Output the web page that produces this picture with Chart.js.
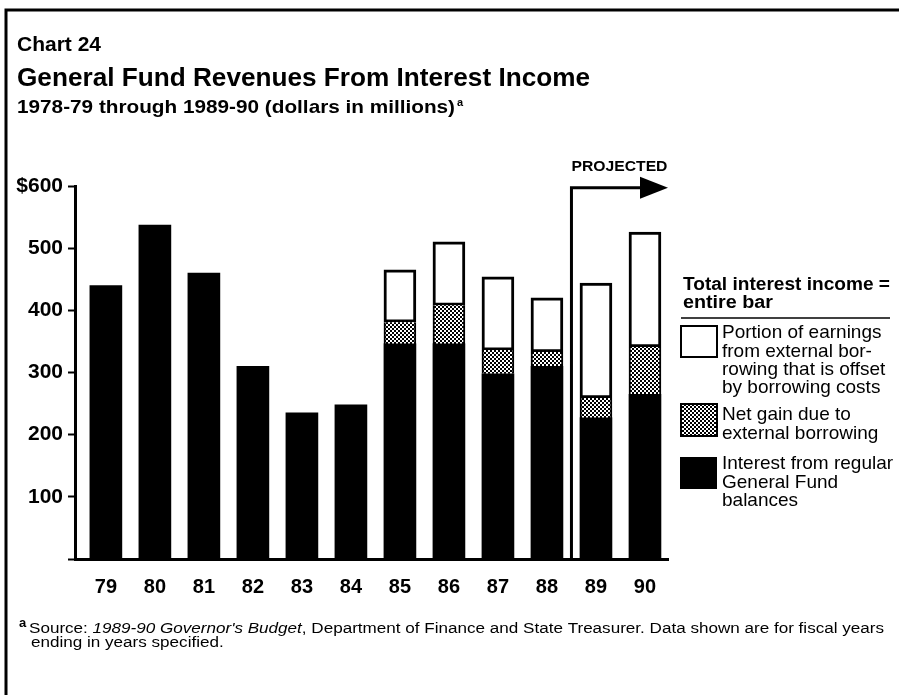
<!DOCTYPE html>
<html>
<head>
<meta charset="utf-8">
<script src="https://cdn.jsdelivr.net/npm/chart.js@4.4.0/dist/chart.umd.min.js"></script>
<style>
  body { margin: 0; background: #fff; }
  #wrap { position: relative; width: 899px; height: 695px; }
</style>
</head>
<body>
<div id="wrap"><canvas id="chart"></canvas></div>
<script>
// fiscal years ending in ...
const years = ['79', '80', '81', '82', '83', '84', '85', '86', '87', '88', '89', '90'];
// interest from regular General Fund balances
const regularInterest = [440, 537, 460, 310, 235, 248, 346, 346, 298, 310, 227, 265];
// net gain due to external borrowing
const netGain = [null, null, null, null, null, null, 35, 62, 38, 23, 32, 76];
// portion of earnings from external borrowing offset by borrowing costs
const offsetEarnings = [null, null, null, null, null, null, 84, 102, 118, 87, 185, 185];
const yTicks = [0, 100, 200, 300, 400, 500, 600];
const firstProjected = 10; // '89

const FONT = '"Liberation Sans", Arial, Helvetica, sans-serif';
const canvas = document.getElementById('chart');
const ctx0 = canvas.getContext('2d');

// bars sit on a numeric x axis (index per year) so the first bar can stand off the y axis
const points = arr => arr.map((v, i) => ({ x: i, y: v }));

function dotPattern() {
  const c = document.createElement('canvas');
  c.width = 4; c.height = 4;
  const g = c.getContext('2d');
  g.fillStyle = '#fff';
  g.fillRect(0, 0, 4, 4);
  g.fillStyle = '#000';
  g.fillRect(0, 0, 2, 2);
  g.fillRect(2, 2, 2, 2);
  return ctx0.createPattern(c, 'repeat');
}
const dots = dotPattern();

function runsWidth(ctx, runs) {
  let total = 0;
  runs.forEach(r => { ctx.font = r.font; total += ctx.measureText(r.text).width; });
  return total;
}

// draw a line made of differently styled runs, optionally squeezed/stretched
function drawRuns(ctx, runs, x, y, width, k) {
  if (!k) k = width ? width / runsWidth(ctx, runs) : 1;
  ctx.save();
  ctx.translate(x, y);
  ctx.scale(k, 1);
  let cx = 0;
  runs.forEach(r => {
    ctx.font = r.font;
    ctx.fillText(r.text, cx, 0);
    cx += ctx.measureText(r.text).width;
  });
  ctx.restore();
  return k;
}

const pageText = {
  id: 'pageText',
  beforeDraw(chart) {
    const ctx = chart.ctx;
    ctx.save();
    ctx.fillStyle = '#fff';
    ctx.fillRect(0, 0, chart.width, chart.height);
    ctx.restore();
  },
  afterDraw(chart) {
    const ctx = chart.ctx;
    ctx.save();
    ctx.fillStyle = '#000';
    ctx.strokeStyle = '#000';

    // frame
    ctx.lineWidth = 3;
    ctx.beginPath();
    ctx.moveTo(6, 695);
    ctx.lineTo(6, 10);
    ctx.lineTo(899, 10);
    ctx.stroke();

    ctx.textBaseline = 'middle';
    drawRuns(ctx, [{ text: 'Chart 24', font: 'bold 20px ' + FONT }], 17, 45, 84);
    drawRuns(ctx, [{ text: 'General Fund Revenues From Interest Income', font: 'bold 26px ' + FONT }], 17, 79, 573);
    drawRuns(ctx, [{ text: '1978-79 through 1989-90 (dollars in millions)', font: 'bold 19px ' + FONT }], 17, 108, 438);
    ctx.font = 'bold 11px ' + FONT;
    ctx.fillText('a', 457, 103);

    // legend
    const lx = 681;
    drawRuns(ctx, [{ text: 'Total interest income =', font: 'bold 18px ' + FONT }], 683, 285, 207);
    drawRuns(ctx, [{ text: 'entire bar', font: 'bold 18px ' + FONT }], 683, 303, 90);
    ctx.lineWidth = 1.5;
    ctx.beginPath();
    ctx.moveTo(lx, 318); ctx.lineTo(890, 318);
    ctx.stroke();

    ctx.lineWidth = 2;
    ctx.fillStyle = '#fff';
    ctx.fillRect(lx, 326, 36, 31);
    ctx.strokeRect(lx, 326, 36, 31);
    ctx.fillStyle = dots;
    ctx.fillRect(lx, 404, 36, 32);
    ctx.strokeRect(lx, 404, 36, 32);
    ctx.fillStyle = '#000';
    ctx.fillRect(lx - 1, 457, 37, 32);

    const lf = '19px ' + FONT;
    const items = [
      [['Portion of earnings', 333], ['from external bor-', 352], ['rowing that is offset', 370], ['by borrowing costs', 388]],
      [['Net gain due to', 415], ['external borrowing', 434]],
      [['Interest from regular', 464], ['General Fund', 483], ['balances', 501]]
    ];
    ctx.fillStyle = '#000';
    items.forEach(lines => lines.forEach(([t, y]) => drawRuns(ctx, [{ text: t, font: lf }], 722, y)));

    // footnote
    ctx.font = 'bold 13px ' + FONT;
    ctx.fillText('a', 19, 623);
    const fn = '14px ' + FONT;
    const fi = 'italic 14px ' + FONT;
    const k = drawRuns(ctx, [
      { text: 'Source: ', font: fn },
      { text: "1989-90 Governor's Budget", font: fi },
      { text: ', Department of Finance and State Treasurer. Data shown are for fiscal years', font: fn }
    ], 29, 629, 855);
    drawRuns(ctx, [{ text: 'ending in years specified.', font: fn }], 31, 643, 0, k);
    ctx.restore();
  }
};

// "PROJECTED" marker between the actual and projected years
const projected = {
  id: 'projected',
  afterDatasetsDraw(chart) {
    const { ctx, scales: { x, y }, chartArea } = chart;
    const lineX = (x.getPixelForValue(firstProjected - 1) + x.getPixelForValue(firstProjected)) / 2;
    const top = y.getPixelForValue(597);
    const tipX = chartArea.right;
    ctx.save();
    ctx.strokeStyle = '#000';
    ctx.fillStyle = '#000';
    ctx.lineWidth = 3;
    ctx.beginPath();
    ctx.moveTo(lineX, chartArea.bottom);
    ctx.lineTo(lineX, top);
    ctx.lineTo(tipX - 26, top);
    ctx.stroke();
    ctx.beginPath();
    ctx.moveTo(tipX - 28, top - 11);
    ctx.lineTo(tipX, top);
    ctx.lineTo(tipX - 28, top + 11);
    ctx.closePath();
    ctx.fill();
    ctx.textBaseline = 'middle';
    drawRuns(ctx, [{ text: 'PROJECTED', font: 'bold 15px ' + FONT }], lineX, top - 21, 96);
    ctx.restore();
  }
};

new Chart(canvas, {
  type: 'bar',
  data: {
    datasets: [
      {
        label: 'Interest from regular General Fund balances',
        data: points(regularInterest),
        backgroundColor: '#000',
        borderWidth: 0,
        barThickness: 32
      },
      {
        label: 'Net gain due to external borrowing',
        data: points(netGain),
        backgroundColor: dots,
        borderColor: '#000',
        borderWidth: { left: 2, right: 2, top: 0, bottom: 0 },
        borderSkipped: false,
        barThickness: 32
      },
      {
        label: 'Portion of earnings from external borrowing that is offset by borrowing costs',
        data: points(offsetEarnings),
        backgroundColor: '#fff',
        borderColor: '#000',
        borderWidth: 3,
        borderSkipped: false,
        barThickness: 32
      }
    ]
  },
  options: {
    responsive: true,
    maintainAspectRatio: false,
    animation: false,
    layout: { padding: { left: 0, top: 186, right: 231, bottom: 96 } },
    plugins: {
      legend: { display: false },
      tooltip: { enabled: false }
    },
    scales: {
      x: {
        type: 'linear',
        stacked: true,
        offset: false,
        min: -0.63,
        max: 11.47,
        afterBuildTicks(s) { s.ticks = years.map((_, i) => ({ value: i })); },
        grid: { display: false },
        border: { color: '#000', width: 3 },
        ticks: {
          color: '#000',
          autoSkip: false,
          maxRotation: 0,
          font: { family: FONT, size: 20, weight: 'bold' },
          padding: 8,
          callback: v => years[v]
        },
        afterFit(s) { s.height = 40; }
      },
      y: {
        stacked: true,
        min: 0,
        max: 600,
        afterBuildTicks(s) { s.ticks = yTicks.map(v => ({ value: v })); },
        ticks: {
          color: '#000',
          font: { family: FONT, size: 21, weight: 'bold' },
          padding: 5,
          callback: v => v === 0 ? '' : (v === 600 ? '$600' : String(v))
        },
        grid: { drawOnChartArea: false, tickLength: 7, tickColor: '#000', tickWidth: 2 },
        border: { color: '#000', width: 3 },
        afterFit(s) { s.width = 75; }
      }
    }
  },
  plugins: [pageText, projected]
});
</script>
</body>
</html>
